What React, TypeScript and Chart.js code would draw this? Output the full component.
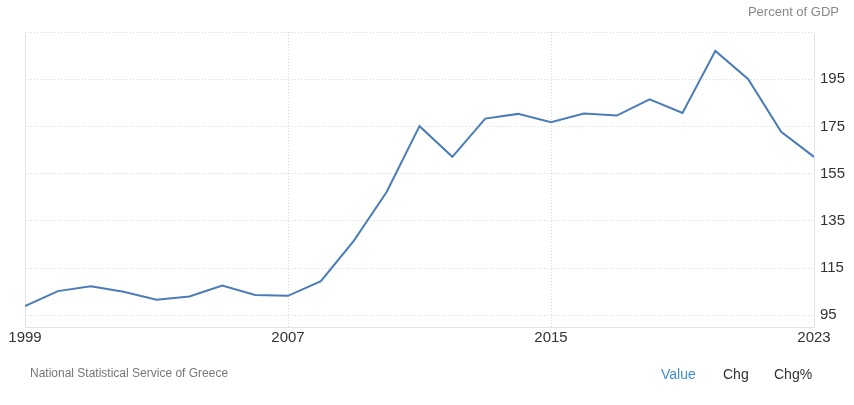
import React, { useEffect, useRef } from "react";
import { Chart, registerables } from "chart.js";

Chart.register(...registerables);

const years: number[] = [
  1999, 2000, 2001, 2002, 2003, 2004, 2005, 2006, 2007, 2008, 2009, 2010,
  2011, 2012, 2013, 2014, 2015, 2016, 2017, 2018, 2019, 2020, 2021, 2022, 2023,
];
const debtToGdp: number[] = [
  98.9, 105.2, 107.3, 104.9, 101.6, 102.9, 107.6, 103.6, 103.2, 109.4, 126.5,
  147.2, 175.1, 162.1, 178.3, 180.3, 176.8, 180.5, 179.6, 186.5, 180.7, 207.0,
  195.0, 172.7, 162.1,
];
const xTicks: number[] = [1999, 2007, 2015, 2023];
const yTicks: number[] = [95, 115, 135, 155, 175, 195, 215];
const yLabelled: number[] = [95, 115, 135, 155, 175, 195];

const FONT = '"Liberation Sans", Arial, Helvetica, sans-serif';

export default function App() {
  const canvasRef = useRef<HTMLCanvasElement | null>(null);

  useEffect(() => {
    if (!canvasRef.current) return;
    const chart = new Chart(canvasRef.current, {
      type: "line",
      data: {
        datasets: [
          {
            label: "Percent of GDP",
            data: years.map((y, i) => ({ x: y, y: debtToGdp[i] })),
            borderColor: "#4a7cb8",
            borderWidth: 2,
            pointRadius: 0,
            tension: 0,
            fill: false,
          },
        ],
      },
      options: {
        animation: false,
        responsive: false,
        maintainAspectRatio: false,
        events: [],
        layout: { padding: { left: 25, top: 32, right: 0, bottom: 0 } },
        plugins: {
          legend: { display: false },
          tooltip: { enabled: false },
          title: { display: false },
        },
        scales: {
          x: {
            type: "linear",
            min: 1999,
            max: 2023,
            afterBuildTicks: (scale: any) => {
              scale.ticks = xTicks.map((v) => ({ value: v }));
            },
            afterFit: (scale: any) => {
              scale.height = 78;
            },
            ticks: {
              color: "#333333",
              font: { family: FONT, size: 15 },
              padding: 2,
              maxRotation: 0,
              callback: (v: any) => String(v),
            },
            grid: {
              color: (ctx: any) =>
                ctx.tick && ctx.tick.value === 2023 ? "rgba(0,0,0,0)" : (ctx.tick && ctx.tick.value === 1999 ? "#e3e3e3" : "#d6d6d6"),
              drawTicks: false,
              lineWidth: 1,
            },
            border: {
              display: true,
              color: "#e3e3e3",
              width: 1,
              dash: (ctx: any) => (ctx.tick && ctx.tick.value === 1999 ? [] : [1, 2]),
            },
          },
          y: {
            type: "linear",
            position: "right",
            min: 90,
            max: 215,
            afterBuildTicks: (scale: any) => {
              scale.ticks = yTicks.map((v) => ({ value: v }));
            },
            afterFit: (scale: any) => {
              scale.width = 40;
            },
            ticks: {
              color: "#333333",
              font: { family: FONT, size: 15 },
              padding: 6,
              callback: (v: any) => (yLabelled.includes(Number(v)) ? String(v) : ""),
            },
            grid: {
              color: "#d6d6d6",
              drawTicks: false,
              lineWidth: 1,
            },
            border: {
              display: true,
              color: "#e3e3e3",
              width: 1,
              dash: [1, 2],
            },
          },
        },
      },
    });
    return () => chart.destroy();
  }, []);

  const textBase: React.CSSProperties = {
    position: "absolute",
    fontFamily: FONT,
    whiteSpace: "nowrap",
    lineHeight: "1",
  };

  return (
    <div
      style={{
        position: "absolute",
        left: 0,
        top: 0,
        width: 854,
        height: 405,
        background: "#ffffff",
        overflow: "hidden",
      }}
    >
      <canvas ref={canvasRef} width={854} height={405} style={{ display: "block" }} />
      <div style={{ ...textBase, right: 15, top: 5, fontSize: 13, color: "#888888" }}>
        Percent of GDP
      </div>
      <div style={{ ...textBase, left: 30, top: 367, fontSize: 12, color: "#777777" }}>
        National Statistical Service of Greece
      </div>
      <div style={{ ...textBase, left: 661, top: 367, fontSize: 14, color: "#3a8fd0" }}>
        Value
      </div>
      <div style={{ ...textBase, left: 723, top: 367, fontSize: 14, color: "#333333" }}>
        Chg
      </div>
      <div style={{ ...textBase, left: 774, top: 367, fontSize: 14, color: "#333333" }}>
        Chg%
      </div>
    </div>
  );
}
